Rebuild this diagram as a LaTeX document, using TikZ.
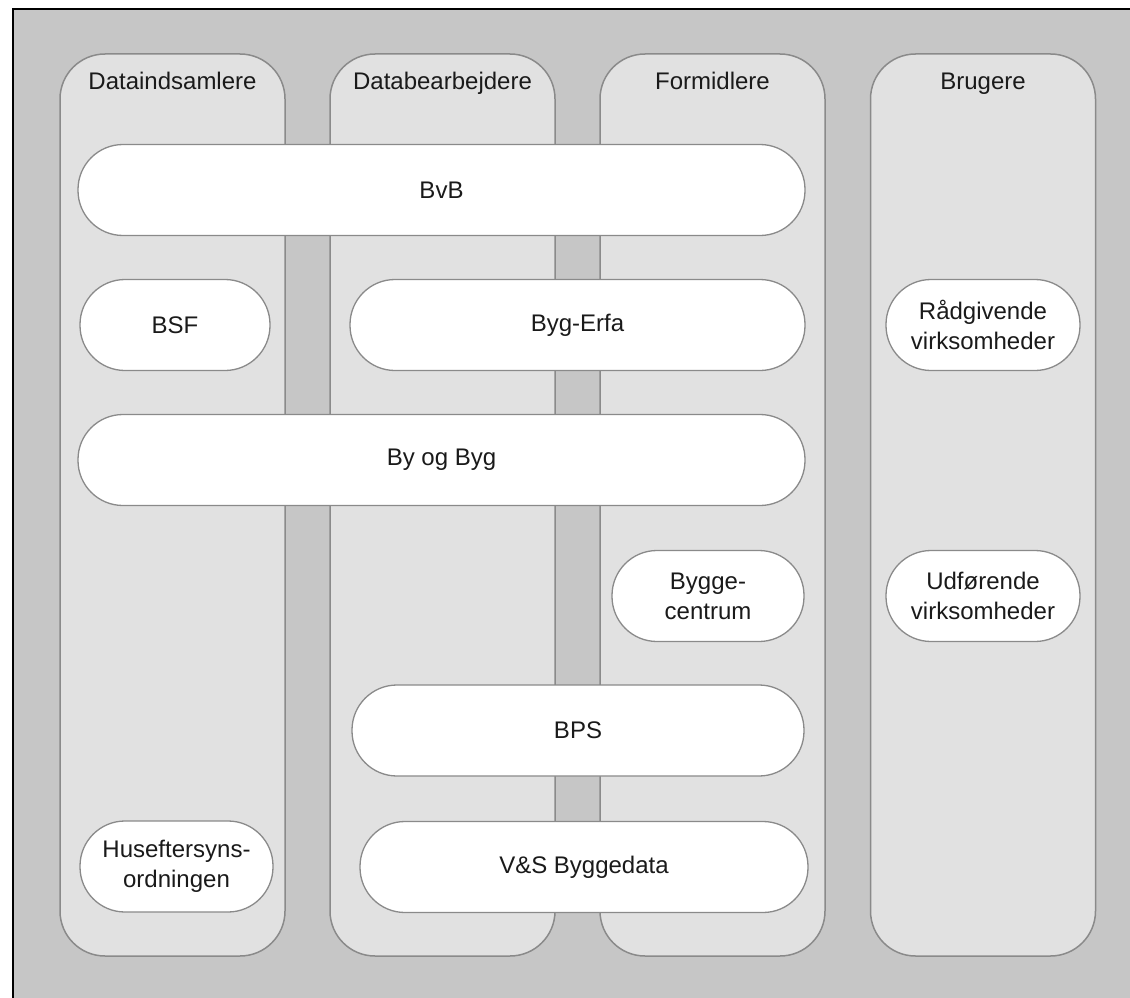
\documentclass[tikz,border=0pt]{standalone}
\usepackage{fontspec}
\setmainfont{Liberation Sans}
\begin{document}
\begin{tikzpicture}[x=1pt,y=-1pt,
  colbox/.style={draw=bordergray, fill=colgray, line width=1.5pt, rounded corners=45pt, inner sep=0pt, minimum width=225pt, minimum height=902pt},
  pill/.style={draw=bordergray, fill=white, line width=1.3pt, rounded corners=45pt, inner sep=0pt, minimum height=91pt, align=center, font=\fontsize{24}{30}\selectfont, text=textgray},
  coltitle/.style={font=\fontsize{24}{30}\selectfont, text=textgray, inner sep=0pt, anchor=base}
]
\definecolor{bggray}{HTML}{C6C6C6}
\definecolor{colgray}{HTML}{E1E1E1}
\definecolor{bordergray}{HTML}{8A8A8A}
\definecolor{textgray}{HTML}{1A1A1A}
\useasboundingbox (0,0) rectangle (1130,998);
\fill[white] (0,0) rectangle (1130,998);
\fill[bggray] (13,9) rectangle (1130,998);
\draw[line width=2pt, black] (1130,9) -- (13,9) -- (13,998);
% columns
\node[colbox] (c1) at (172.5,505) {};
\node[colbox] (c2) at (442.5,505) {};
\node[colbox] (c3) at (712.5,505) {};
\node[colbox] (c4) at (983,505) {};
\node[coltitle] (t1) at ([yshift=-36pt]c1.north) {Dataindsamlere};
\node[coltitle] (t2) at ([yshift=-36pt]c2.north) {Databearbejdere};
\node[coltitle] (t3) at ([yshift=-36pt]c3.north) {Formidlere};
\node[coltitle] (t4) at ([yshift=-36pt]c4.north) {Brugere};
% pills
\node[pill, minimum width=727pt] (bvb) at (441.5,190) {BvB};
\node[pill, minimum width=190pt] (bsf) at (175,325) {BSF};
\node[pill, minimum width=455pt] (erfa) at (577.5,325) {Byg-Erfa};
\node[pill, minimum width=727pt] (byog) at (441.5,460) {By og Byg};
\node[pill, minimum width=192pt] (bc) at (708,596) {Bygge-\\centrum};
\node[pill, minimum width=452pt] (bps) at (578,730.5) {BPS};
\node[pill, minimum width=448pt] (vs) at (584,867) {V\&S Byggedata};
\node[pill, minimum width=193pt] (hus) at (176.5,866.5) {Huseftersyns-\\ordningen};
\node[pill, minimum width=194pt] (raad) at (983,325) {Rådgivende\\virksomheder};
\node[pill, minimum width=194pt] (udf) at (983,596) {Udførende\\virksomheder};
\end{tikzpicture}
\end{document}
